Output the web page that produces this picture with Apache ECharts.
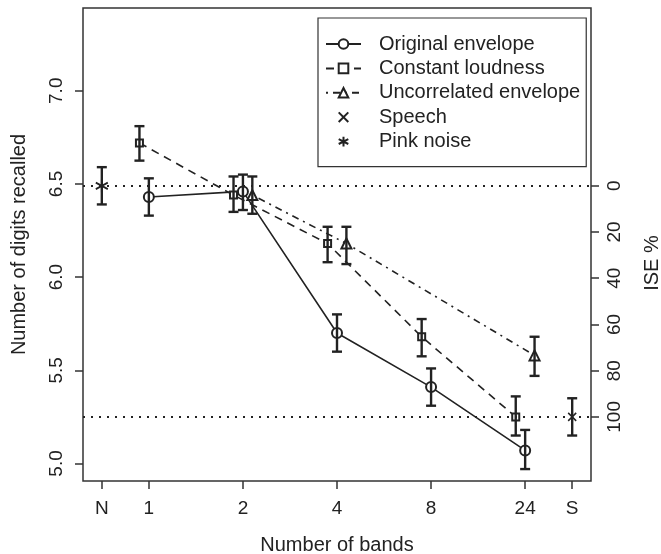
<!DOCTYPE html>
<html>
<head>
<meta charset="utf-8">
<script src="https://cdn.jsdelivr.net/npm/echarts@6/dist/echarts.min.js"></script>
<style>
html,body{margin:0;padding:0;background:#fff;}
#chart{width:661px;height:554px;}
</style>
</head>
<body>
<div id="chart"></div>
<script>
// ---- data ----
const bandLabels = ['N', '1', '2', '4', '8', '24', 'S'];
const bandSlots  = [0, 1, 3, 5, 7, 9, 10];   // axis slot of each band label

const origBands = ['1', '2', '4', '8', '24'];
const origMean  = [6.43, 6.46, 5.70, 5.41, 5.07];
const origLo    = [6.33, 6.36, 5.60, 5.31, 4.97];
const origHi    = [6.53, 6.55, 5.80, 5.51, 5.18];

const constBands = ['1', '2', '4', '8', '24'];
const constMean  = [6.72, 6.44, 6.18, 5.68, 5.25];
const constLo    = [6.625, 6.35, 6.08, 5.575, 5.15];
const constHi    = [6.81, 6.54, 6.27, 5.775, 5.36];

const uncBands = ['2', '4', '24'];
const uncMean  = [6.44, 6.18, 5.58];
const uncLo    = [6.34, 6.07, 5.47];
const uncHi    = [6.54, 6.27, 5.68];

const speechMean = 5.25, speechLo = 5.15, speechHi = 5.35;
const pinkMean = 6.49, pinkLo = 6.39, pinkHi = 6.59;

const leftTicks = [5.0, 5.5, 6.0, 6.5, 7.0];
const iseTicks = [0, 20, 40, 60, 80, 100];
const yMin = 4.906, yMax = 7.444;

// ---- helpers ----
const slotOf = b => bandSlots[bandLabels.indexOf(b)];
const DODGE = 0.2;
const ink = '#222';
const FONT = 'Liberation Sans, Arial, Helvetica, sans-serif';

function pts(bands, mean, off) {
  return bands.map((b, i) => [slotOf(b) + off, mean[i]]);
}
function errs(bands, lo, hi, off) {
  return bands.map((b, i) => [slotOf(b) + off, lo[i], hi[i]]);
}
function renderErr(params, api) {
  const x = api.value(0), lo = api.value(1), hi = api.value(2);
  const a = api.coord([x, lo]), b = api.coord([x, hi]);
  const w = 5;
  const style = { stroke: ink, lineWidth: 2.4, fill: null };
  return { type: 'group', children: [
    { type: 'line', shape: { x1: a[0], y1: a[1], x2: b[0], y2: b[1] }, style },
    { type: 'line', shape: { x1: a[0] - w, y1: a[1], x2: a[0] + w, y2: a[1] }, style },
    { type: 'line', shape: { x1: b[0] - w, y1: b[1], x2: b[0] + w, y2: b[1] }, style }
  ]};
}
function errSeries(name, data) {
  return { name, type: 'custom', renderItem: renderErr, data, z: 5,
           encode: { x: 0, y: [1, 2] }, silent: true };
}

const iseRange = pinkMean - speechMean;
const iseOf = v => (pinkMean - v) / iseRange * 100;

const chart = echarts.init(document.getElementById('chart'), null, { renderer: 'canvas' });
const option = {
  animation: false,
  backgroundColor: '#fff',
  textStyle: { fontFamily: FONT, color: ink },
  grid: { left: 83, right: 70, top: 8, bottom: 73, show: true, containLabel: false,
          outerBoundsMode: 'none',
          borderColor: '#333', borderWidth: 1.5, backgroundColor: 'transparent' },
  xAxis: {
    type: 'value', min: -0.4, max: 10.4,
    axisLine: { show: false, onZero: false },
    splitLine: { show: false },
    axisTick: { show: true, inside: false, length: 8, customValues: bandSlots, lineStyle: { color: '#333', width: 1.5 } },
    axisLabel: { customValues: bandSlots, margin: 18, fontSize: 19, color: ink, fontFamily: FONT,
                 formatter: v => bandLabels[bandSlots.indexOf(Math.round(v))] },
    name: 'Number of bands', nameLocation: 'middle', nameGap: 54,
    nameTextStyle: { fontSize: 20, color: ink, fontFamily: FONT }
  },
  yAxis: [{
    type: 'value', min: yMin, max: yMax,
    axisLine: { show: false, onZero: false },
    splitLine: { show: false },
    axisTick: { show: true, inside: false, length: 8, customValues: leftTicks, lineStyle: { color: '#333', width: 1.5 } },
    axisLabel: { customValues: leftTicks, rotate: 90, margin: 17, fontSize: 19, color: ink, fontFamily: FONT,
                 formatter: v => v.toFixed(1) },
    name: 'Number of digits recalled', nameLocation: 'middle', nameGap: 54,
    nameTextStyle: { fontSize: 20, color: ink, fontFamily: FONT }
  }, {
    type: 'value', position: 'right', inverse: true,
    min: iseOf(yMax), max: iseOf(yMin),
    axisLine: { show: false, onZero: false },
    splitLine: { show: false },
    axisTick: { show: true, inside: false, length: 8, customValues: iseTicks, lineStyle: { color: '#333', width: 1.5 } },
    axisLabel: { customValues: iseTicks, rotate: 90, margin: 14, fontSize: 19, color: ink, fontFamily: FONT }
  }],
  graphic: [{
    type: 'text', x: 652, y: 263, rotation: Math.PI / 2,
    style: { text: 'ISE %', font: '20px ' + FONT, fill: ink, align: 'center', verticalAlign: 'middle' }
  }],
  legend: {
    orient: 'vertical', left: 318, top: 18,
    data: ['Original envelope', 'Constant loudness', 'Uncorrelated envelope', 'Speech', 'Pink noise'],
    itemWidth: 35, itemHeight: 12, itemGap: 4.4,
    padding: [16, 6, 15, 7],
    borderColor: '#333', borderWidth: 1.2, backgroundColor: '#fff',
    textStyle: { fontSize: 20, color: ink, fontFamily: FONT, padding: [0, 0, 0, 13], lineHeight: 20 },
    selectedMode: false
  },
  series: [
    {
      name: 'Original envelope', type: 'line', data: pts(origBands, origMean, 0),
      symbol: 'emptyCircle', symbolSize: 10, showAllSymbol: true,
      lineStyle: { color: ink, width: 1.6, type: 'solid' },
      itemStyle: { color: ink, borderColor: ink, borderWidth: 1.5 },
      markLine: {
        silent: true, symbol: 'none', label: { show: false },
        lineStyle: { color: ink, width: 2, type: [2, 6] },
        data: [{ yAxis: pinkMean }, { yAxis: speechMean }]
      }
    },
    {
      name: 'Constant loudness', type: 'line', data: pts(constBands, constMean, -DODGE),
      symbol: 'emptyRect', symbolSize: 7,
      lineStyle: { color: ink, width: 1.6, type: [8, 6] },
      itemStyle: { color: ink, borderColor: ink, borderWidth: 1.3 }
    },
    {
      name: 'Uncorrelated envelope', type: 'line', data: pts(uncBands, uncMean, DODGE),
      symbol: 'emptyTriangle', symbolSize: 10,
      lineStyle: { color: ink, width: 1.6, type: [2, 5, 7, 5] },
      itemStyle: { color: ink, borderColor: ink, borderWidth: 1.3 }
    },
    {
      name: 'Speech', type: 'line', data: [[slotOf('S'), speechMean]],
      symbol: 'path://M0,0L1,1M0,1L1,0', symbolSize: 8,
      lineStyle: { opacity: 0 },
      itemStyle: { color: ink, borderColor: ink, borderWidth: 1.5 }
    },
    {
      name: 'Pink noise', type: 'line', data: [[slotOf('N'), pinkMean]],
      symbol: 'path://M0,-1L0,1M-0.866,-0.5L0.866,0.5M-0.866,0.5L0.866,-0.5', symbolSize: [12, 13],
      lineStyle: { opacity: 0 },
      itemStyle: { color: ink, borderColor: ink, borderWidth: 1.8 }
    },
    errSeries('origErr', errs(origBands, origLo, origHi, 0)),
    errSeries('constErr', errs(constBands, constLo, constHi, -DODGE)),
    errSeries('uncErr', errs(uncBands, uncLo, uncHi, DODGE)),
    errSeries('speechErr', [[slotOf('S'), speechLo, speechHi]]),
    errSeries('pinkErr', [[slotOf('N'), pinkLo, pinkHi]])
  ]
};
chart.setOption(option);
</script>
</body>
</html>
